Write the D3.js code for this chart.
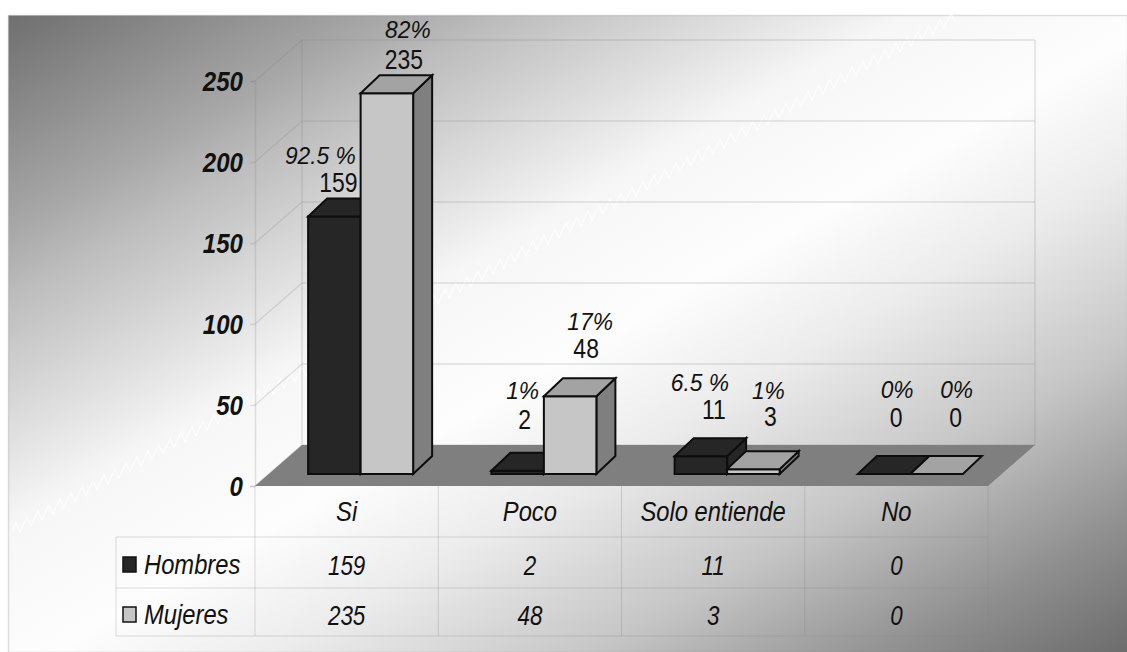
<!DOCTYPE html>
<html>
<head>
<meta charset="utf-8">
<style>
  html, body { margin: 0; padding: 0; background: #fff; }
  text { font-family: "Liberation Sans", Arial, sans-serif; fill: #111; }
</style>
<script src="https://cdn.jsdelivr.net/npm/d3@7"></script>
</head>
<body>
<svg id="chart" width="1127" height="652"></svg>
<script>
var categories = ["Si", "Poco", "Solo entiende", "No"];
var seriesNames = ["Hombres", "Mujeres"];
var hombres = [159, 2, 11, 0];
var mujeres = [235, 48, 3, 0];
var pctHombres = ["92.5 %", "1%", "6.5 %", "0%"];
var pctMujeres = ["82%", "17%", "1%", "0%"];
var yTicks = [0, 50, 100, 150, 200, 250];

// label shifts from the bar's centre and top: [pct dx, pct dy, value dx, value dy]
var nudgeHombres = [[-14, -61, 4, -34], [5, -80, 7, -52], [-1, -74, 13, -47], [13, -84, 12, -57]];
var nudgeMujeres = [[21, -64, 17, -34], [20, -75, 16, -48], [15, -79, 17, -53], [20, -84, 19, -57]];

var svg = d3.select("#chart");
var floorDepth = { x: 47, y: 41 };
var barDepth = { x: 19, y: 18 };
var barInset = { x: 14, y: 12 };
var rowLines = [486, 537, 588, 636];

var x0 = d3.scaleBand().domain(categories).range([255, 988]);
var x1 = d3.scaleBand().domain(seriesNames).range([0, x0.bandwidth()]).paddingInner(0).paddingOuter(0.745);
var y = d3.scaleLinear().domain([0, 250]).range([486, 81]);

var faceColors = {
  Hombres: { front: "#262626", top: "#262626", side: "#262626" },
  Mujeres: { front: "#c6c6c6", top: "#a3a3a3", side: "#7f7f7f" }
};

// panel background, dark in two corners and white along the other diagonal
var grad = svg.append("defs").append("linearGradient")
  .attr("id", "panelFill")
  .attr("x1", 0).attr("y1", 0).attr("x2", 1).attr("y2", 1);
[[0, "#6f6f6f"], [0.17, "#a8a8a8"], [0.22, "#bcbcbc"], [0.4, "#f6f6f6"], [0.52, "#fdfdfd"],
 [0.62, "#ececec"], [0.76, "#c6c6c6"], [0.9, "#8e8e8e"], [1, "#6c6c6c"]].forEach(function(s) {
  grad.append("stop").attr("offset", s[0]).attr("stop-color", s[1]);
});

svg.append("rect")
  .attr("x", 8.5).attr("y", 15.5).attr("width", 1119).attr("height", 637)
  .attr("fill", "url(#panelFill)")
  .attr("stroke", "#808080").attr("stroke-opacity", 0.25).attr("stroke-width", 1.5);

// white sawtooth streak that runs across the gradient
var streak = d3.path();
for (var i = 0; i < 86; i++) {
  var px = 12 + i * 11;
  var py = 532 - (px - 10) * 0.545;
  if (i === 0) streak.moveTo(px, py); else streak.lineTo(px, py);
  streak.lineTo(px + 4, py - 8);
  streak.lineTo(px + 8, py + 1);
}
svg.append("path").attr("d", streak.toString())
  .attr("fill", "none").attr("stroke", "#fff").attr("stroke-opacity", 0.7).attr("stroke-width", 1.4);

// condensed text helper, the labels are narrower than the plain font
function label(g, cx, cy, str, size, style, sx) {
  return g.append("text")
    .attr("transform", "translate(" + cx + "," + cy + ") scale(" + sx + ",1)")
    .attr("text-anchor", "middle")
    .attr("dy", "0.35em")
    .attr("font-size", size)
    .attr("font-style", style)
    .text(str);
}

// walls and gridlines
var wallStroke = { stroke: "#808080", opacity: 0.22, width: 1.5 };
var walls = svg.append("g")
  .attr("stroke", wallStroke.stroke)
  .attr("stroke-opacity", wallStroke.opacity)
  .attr("stroke-width", wallStroke.width)
  .attr("fill", "none");
walls.selectAll("line.back").data(yTicks).enter().append("line")
  .attr("class", "back")
  .attr("x1", 255 + floorDepth.x).attr("x2", 988 + floorDepth.x)
  .attr("y1", function(d) { return y(d) - floorDepth.y; })
  .attr("y2", function(d) { return y(d) - floorDepth.y; });
walls.selectAll("line.side").data(yTicks).enter().append("line")
  .attr("class", "side")
  .attr("x1", 255).attr("x2", 255 + floorDepth.x)
  .attr("y1", function(d) { return y(d); })
  .attr("y2", function(d) { return y(d) - floorDepth.y; });
[255 + floorDepth.x, 988 + floorDepth.x].forEach(function(px) {
  walls.append("line").attr("x1", px).attr("x2", px)
    .attr("y1", y(250) - floorDepth.y).attr("y2", y(0) - floorDepth.y);
});

// floor
svg.append("path")
  .attr("d", d3.line()([
    [x0.range()[0], y(0)],
    [x0.range()[1], y(0)],
    [x0.range()[1] + floorDepth.x, y(0) - floorDepth.y],
    [x0.range()[0] + floorDepth.x, y(0) - floorDepth.y]
  ]) + "Z")
  .attr("fill", "#7f7f7f");

// value axis
var axis = svg.append("g")
  .attr("transform", "translate(255,0)")
  .call(d3.axisLeft(y).tickValues(yTicks).tickSize(5).tickPadding(0));
axis.selectAll("path, line")
  .attr("stroke", wallStroke.stroke)
  .attr("stroke-opacity", wallStroke.opacity)
  .attr("stroke-width", wallStroke.width);
axis.selectAll("text")
  .attr("x", 0).attr("dy", "0.35em")
  .attr("transform", "translate(-12,0) scale(0.86,1)")
  .attr("text-anchor", "end")
  .attr("font-size", 28)
  .attr("font-weight", "bold")
  .attr("font-style", "italic")
  .style("font-family", '"Liberation Sans", Arial, sans-serif')
  .attr("fill", "#111");

// bars, one box per series and category
function box(v, left, w) {
  var b = y(0) - barInset.y;
  var t = y(v) - barInset.y;
  var r = left + w;
  return {
    front: [[left, b], [r, b], [r, t], [left, t]],
    top: [[left, t], [r, t], [r + barDepth.x, t - barDepth.y], [left + barDepth.x, t - barDepth.y]],
    side: [[r, b], [r + barDepth.x, b - barDepth.y], [r + barDepth.x, t - barDepth.y], [r, t]],
    left: left, right: r, topY: t
  };
}

var series = [
  { name: "Hombres", values: hombres, pct: pctHombres, nudge: nudgeHombres },
  { name: "Mujeres", values: mujeres, pct: pctMujeres, nudge: nudgeMujeres }
];
var polygon = d3.line();
var barLayer = svg.append("g").attr("stroke", "#0d0d0d").attr("stroke-width", 2).attr("stroke-linejoin", "miter");
var labelLayer = svg.append("g");

categories.forEach(function(cat, c) {
  series.forEach(function(s) {
    var left = x0(cat) + x1(s.name) + barInset.x;
    var b = box(s.values[c], left, x1.bandwidth());
    var g = barLayer.append("g");
    if (s.values[c] > 0) {
      g.append("path").attr("d", polygon(b.side) + "Z").attr("fill", faceColors[s.name].side);
      g.append("path").attr("d", polygon(b.front) + "Z").attr("fill", faceColors[s.name].front);
    }
    g.append("path").attr("d", polygon(b.top) + "Z").attr("fill", faceColors[s.name].top);

    var cx = (b.left + b.right) / 2;
    var n = s.nudge[c];
    label(labelLayer, cx + n[0], b.topY + n[1], s.pct[c], 24, "italic", 0.95);
    label(labelLayer, cx + n[2], b.topY + n[3], s.values[c], 28, "normal", 0.82);
  });
});

// data table under the chart
var table = svg.append("g")
  .attr("stroke", "#808080")
  .attr("stroke-opacity", 0.28)
  .attr("stroke-width", 1);
rowLines.slice(1).forEach(function(py) {
  table.append("line").attr("x1", 116).attr("x2", 988).attr("y1", py).attr("y2", py);
});
table.append("line").attr("x1", 116).attr("x2", 116).attr("y1", rowLines[1]).attr("y2", rowLines[3]);
categories.forEach(function(cat) {
  table.append("line").attr("x1", x0(cat)).attr("x2", x0(cat)).attr("y1", rowLines[0]).attr("y2", rowLines[3]);
});
table.append("line").attr("x1", 988).attr("x2", 988).attr("y1", rowLines[0]).attr("y2", rowLines[3]);

var cells = svg.append("g");
var rowCentres = [512, 565, 615];
categories.forEach(function(cat, c) {
  var cx = x0(cat) + x0.bandwidth() / 2;
  label(cells, cx, rowCentres[0], cat, 27, "italic", 0.88);
  label(cells, cx, rowCentres[1], hombres[c], 28, "italic", 0.8);
  label(cells, cx, rowCentres[2], mujeres[c], 28, "italic", 0.8);
});

series.forEach(function(s, i) {
  var cy = rowCentres[i + 1];
  cells.append("rect")
    .attr("x", 123).attr("y", cy - 8).attr("width", 13).attr("height", 15)
    .attr("fill", faceColors[s.name].front)
    .attr("stroke", "#111").attr("stroke-width", 1.5);
  cells.append("text")
    .attr("transform", "translate(144," + cy + ") scale(0.88,1)")
    .attr("dy", "0.35em")
    .attr("font-size", 27)
    .attr("font-style", "italic")
    .text(s.name);
});
</script>
</body>
</html>
